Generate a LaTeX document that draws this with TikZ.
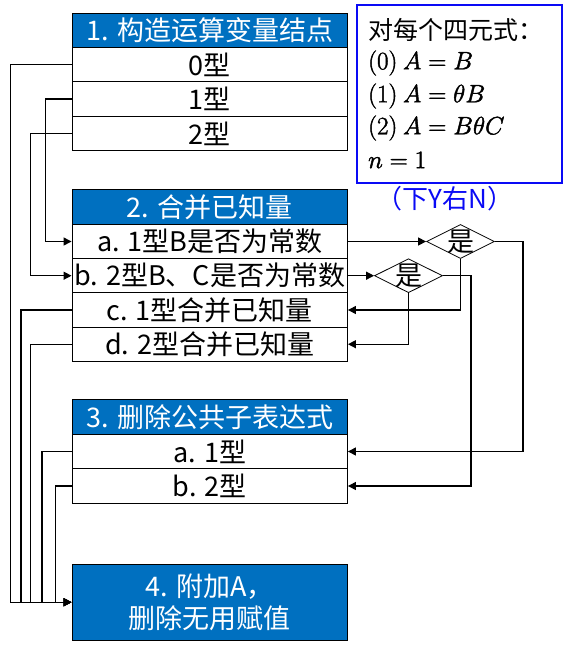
\RequirePackage{fix-cm}
\documentclass[tikz,border=0pt]{standalone}
\usepackage{fontspec}
\setmainfont{Noto Sans CJK SC}
\usetikzlibrary{arrows.meta,shapes.geometric}
\definecolor{hdr}{RGB}{0,112,192}
\definecolor{infoblue}{RGB}{10,10,245}
\newcommand{\heavier}[1]{\special{pdf:literal direct 2 Tr 0.45 w}#1\special{pdf:literal direct 0 Tr}}
\begin{document}
\begin{tikzpicture}[x=1pt,y=-1pt,
 every node/.style={font=\fontsize{27}{32}\selectfont, inner sep=0pt},
 cell/.style={draw, line width=0.9pt, minimum width=275.5pt, minimum height=34.3pt, fill=white},
 hdrcell/.style={cell, fill=hdr, text=white},
 conn/.style={line width=1.3pt},
 arr/.style={conn, -{Triangle[length=8pt,width=8pt]}},
 dia/.style={draw, shape=diamond, minimum width=68pt, minimum height=34pt, line width=0.8pt},
 infotxt/.style={anchor=west, font=\fontsize{25}{29}\selectfont}]
\useasboundingbox (0,0) rectangle (571,649);
% box 1
\node[hdrcell] (h1) at (209.75,30.2) {1. 构造运算变量结点};
\node[cell] (r0) at (209.75,64.5) {0型};
\node[cell] (r1) at (209.75,99) {1型};
\node[cell] (r2) at (209.75,133.5) {2型};
% box 2
\node[hdrcell] (h2) at (209.75,206.8) {2. 合并已知量};
\node[cell] (a2) at (209.75,241.5) {a. 1型B是否为常数};
\node[cell] (b2) at (209.75,275.7) {b. 2型B、C是否为常数};
\node[cell] (c2) at (209.75,310) {c. 1型合并已知量};
\node[cell] (d2) at (209.75,344.2) {d. 2型合并已知量};
% box 3
\node[hdrcell] (h3) at (209.75,416.8) {3. 删除公共子表达式};
\node[cell] (a3) at (209.75,451.5) {a. 1型};
\node[cell] (b3) at (209.75,486) {b. 2型};
% box 4
\node[hdrcell, minimum height=75.7pt, align=center, font=\fontsize{27}{31.7}\selectfont] (h4) at (209.75,602.2) {4. 附加A，\\删除无用赋值};
% info box
\node[draw=infoblue, line width=1.8pt, minimum width=204.7pt, minimum height=177.7pt] (info) at (459.6,93.9) {};
\node[infotxt] (t0) at (368,30) {对每个四元式：};
\node[infotxt] (t1) at (368,63) {\heavier{$(0)\ A=B$}};
\node[infotxt] (t2) at (368,96) {\heavier{$(1)\ A=\theta B$}};
\node[infotxt] (t3) at (368,128) {\heavier{$(2)\ A=B\theta C$}};
\node[infotxt] (t4) at (368,160) {\heavier{$n=1$}};
\node[text=infoblue, font=\fontsize{26}{30}\selectfont] (yn) at (445,199) {（下Y右N）};
% diamonds
\node[dia] (q1) at (460.5,241.5) {};
\node (q1t) at (q1) {是};
\node[dia] (q2) at (408.5,275.7) {};
\node (q2t) at (q2) {是};
% left connectors
\draw[arr] (r0.west) -- ++(-61.3,0) |- (h4.west);
\draw[arr] (r1.west) -- ++(-26.3,0) |- (a2.west);
\draw[arr] (r2.west) -- ++(-41.3,0) |- (b2.west);
\draw[arr] (c2.west) -- ++(-50.5,0) |- (h4.west);
\draw[arr] (d2.west) -- ++(-41,0) |- (h4.west);
\draw[arr] (a3.west) -- ++(-29.7,0) |- (h4.west);
\draw[arr] (b3.west) -- ++(-16,0) |- (h4.west);
% right connectors
\draw[arr] (a2.east) -- (q1.west);
\draw[arr] (b2.east) -- (q2.west);
\draw[arr] (q1.south) |- (c2.east);
\draw[arr] (q2.south) |- (d2.east);
\draw[arr] (q1.east) -- ++(28,0) |- (a3.east);
\draw[arr] (q2.east) -- ++(28,0) |- (b3.east);
\end{tikzpicture}
\end{document}
